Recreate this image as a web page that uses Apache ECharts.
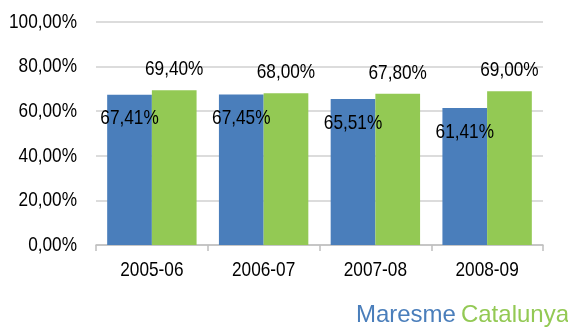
<!DOCTYPE html>
<html>
<head>
<meta charset="utf-8">
<script src="https://cdn.jsdelivr.net/npm/echarts@6/dist/echarts.min.js"></script>
<style>
  html, body { margin: 0; padding: 0; background: #fff; }
  #chart { width: 568px; height: 327px; }
</style>
</head>
<body>
<div id="chart"></div>
<script>
// School years on the category axis
const categories = ['2005-06', '2006-07', '2007-08', '2008-09'];
// Percentages per area
const maresme = [67.41, 67.45, 65.51, 61.41];
const catalunya = [69.40, 68.00, 67.80, 69.00];
// Value axis ticks
const yTicks = [0, 20, 40, 60, 80, 100];

const BLUE = '#4a7ebb';
const GREEN = '#93c954';
const WIDE = '"Liberation Sans", Arial, sans-serif';
// Narrow lettering: Arial metrics squeezed horizontally
const LABEL_FONT = '21px "Liberation Sans", Arial, sans-serif';
const SQUEEZE = 0.82;
const BAR_CATEGORY_GAP = 0.2;

const fmt = v => v.toFixed(2).replace('.', ',') + '%';

function narrowText(x, y, text, align) {
  return {
    type: 'text',
    x: x,
    y: y,
    scaleX: SQUEEZE,
    style: {
      x: 0, y: 0,
      text: text,
      font: LABEL_FONT,
      fill: '#000',
      align: align,
      verticalAlign: 'middle'
    }
  };
}

// Value labels for one bar series; side = -1 (left bar) or +1 (right bar)
function barLabelSeries(name, values, side, offsetY) {
  return {
    name: name + ' labels',
    type: 'custom',
    clip: false,
    z: 10,
    data: values.map((v, i) => [i, v]),
    renderItem: (params, api) => {
      const i = api.value(0);
      const v = api.value(1);
      const pt = api.coord([i, v]);
      const band = api.size([1, 0])[0];
      const barW = band * (1 - BAR_CATEGORY_GAP) / 2;
      return narrowText(pt[0] + side * barW / 2, pt[1] + offsetY, fmt(v), 'center');
    }
  };
}

const chart = echarts.init(document.getElementById('chart'));
chart.setOption({
  animation: false,
  backgroundColor: '#fff',
  textStyle: { fontFamily: WIDE },
  grid: { left: 96, right: 25, top: 22, bottom: 82 },
  legend: {
    data: [
      { name: 'Maresme', textStyle: { color: BLUE } },
      { name: 'Catalunya', textStyle: { color: GREEN } }
    ],
    icon: 'none',
    itemWidth: 0,
    itemHeight: 0,
    itemGap: 0,
    right: -1,
    top: 303,
    padding: 0,
    textStyle: { fontSize: 24, fontFamily: WIDE, padding: 0 }
  },
  xAxis: {
    type: 'category',
    data: categories,
    axisLine: { lineStyle: { color: '#bfbfbf', width: 1.5 } },
    axisTick: { show: true, length: 6, lineStyle: { color: '#bfbfbf', width: 1.5 } },
    axisLabel: { show: false }
  },
  yAxis: {
    type: 'value',
    min: yTicks[0],
    max: yTicks[yTicks.length - 1],
    interval: 20,
    axisLine: { show: false },
    axisTick: { show: false },
    splitLine: { lineStyle: { color: '#d0d0d0', width: 1.5 } },
    axisLabel: { show: false }
  },
  series: [
    {
      name: 'Maresme',
      type: 'bar',
      data: maresme,
      barGap: '0%',
      barCategoryGap: (BAR_CATEGORY_GAP * 100) + '%',
      itemStyle: { color: BLUE }
    },
    {
      name: 'Catalunya',
      type: 'bar',
      data: catalunya,
      itemStyle: { color: GREEN }
    },
    barLabelSeries('Maresme', maresme, -1, 24),
    barLabelSeries('Catalunya', catalunya, 1, -21),
    {
      // value axis tick labels
      name: 'y ticks',
      type: 'custom',
      clip: false,
      silent: true,
      data: yTicks.map(v => [0, v]),
      renderItem: (params, api) => {
        const v = api.value(1);
        const y = api.coord([0, v])[1];
        return narrowText(params.coordSys.x - 19, y, fmt(v), 'right');
      }
    },
    {
      // category axis labels
      name: 'x ticks',
      type: 'custom',
      clip: false,
      silent: true,
      data: categories.map((c, i) => [i, 0]),
      renderItem: (params, api) => {
        const i = api.value(0);
        const x = api.coord([i, 0])[0];
        const y = params.coordSys.y + params.coordSys.height + 25.5;
        return narrowText(x, y, categories[i], 'center');
      }
    }
  ]
});
</script>
</body>
</html>
